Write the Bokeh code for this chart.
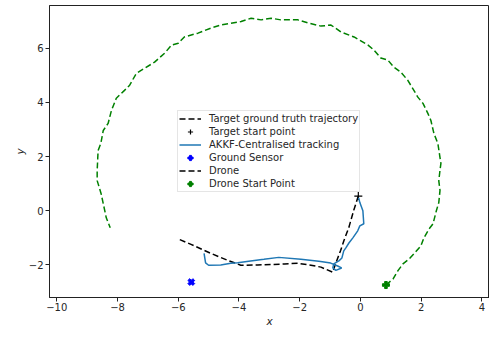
from bokeh.plotting import figure
from bokeh.models import Range1d, FixedTicker, Legend, LegendItem
from bokeh.embed import file_html
from bokeh.resources import INLINE
import numpy as np

# ---- data ----
target_x = [-0.07, -0.22, -0.38, -0.54, -0.65, -0.75, -0.87, -0.91, -1.30, -1.63, -2.06,
            -2.50, -2.85, -3.38, -3.94, -4.37, -4.93, -5.58, -6.00]
target_y = [0.54, 0.02, -0.61, -1.09, -1.46, -1.75, -2.12, -2.27, -2.08, -2.01, -1.94,
            -1.96, -1.98, -2.00, -2.01, -1.83, -1.57, -1.24, -1.04]

target_start_x = [-0.07]
target_start_y = [0.54]

track_x = [-0.06, -0.02, 0.08, 0.11, -0.02, -0.09, -0.25, -0.38, -0.48, -0.55, -0.61,
           -0.71, -0.88, -0.91, -0.81, -0.62, -0.75, -0.98, -1.20, -1.37, -1.96, -2.69,
           -3.18, -3.68, -4.04, -4.27, -4.60, -5.00, -5.10, -5.15]
track_y = [0.48, 0.30, 0.00, -0.48, -0.56, -0.74, -1.00, -1.19, -1.37, -1.48, -1.74,
           -1.85, -1.96, -2.11, -2.20, -2.11, -2.04, -1.93, -1.89, -1.86, -1.79, -1.72,
           -1.79, -1.86, -1.92, -1.94, -2.00, -2.01, -1.92, -1.57]

sensor_x = [-5.57]
sensor_y = [-2.63]

drone_x = [0.84, 1.07, 1.23, 1.40, 1.60, 1.76, 1.99, 2.09, 2.26, 2.39, 2.50, 2.58, 2.62,
           2.58, 2.62, 2.65, 2.62, 2.55, 2.42, 2.32, 2.22, 2.06, 1.89, 1.76, 1.56, 1.33,
           1.10, 0.90, 0.67, 0.44, 0.25, -0.21, -0.64, -0.97, -1.30, -1.73, -2.06, -2.62,
           -2.94, -3.27, -3.60, -3.93, -4.03, -4.59, -4.92, -5.35, -5.80, -6.00, -6.22,
           -6.45, -6.78, -7.10, -7.38, -7.60, -7.77, -8.04, -8.20, -8.31, -8.47, -8.55,
           -8.64, -8.67, -8.67, -8.54, -8.37, -8.24]
drone_y = [-2.74, -2.52, -2.22, -1.96, -1.78, -1.59, -1.30, -1.00, -0.67, -0.48, 0.00, 0.30,
           0.75, 1.10, 1.50, 1.75, 1.96, 2.48, 2.85, 3.33, 3.59, 3.96, 4.19, 4.44, 4.81, 5.11,
           5.30, 5.56, 5.63, 5.93, 6.11, 6.41, 6.59, 6.85, 6.81, 6.93, 7.04, 7.04,
           7.10, 7.04, 7.10, 6.98, 6.96, 6.85, 6.74, 6.55, 6.41, 6.18, 6.11,
           5.81, 5.48, 5.26, 5.07, 4.63, 4.44, 4.15, 3.70, 3.22, 2.96, 2.48,
           2.22, 1.48, 1.11, 0.63, -0.26, -0.63]

drone_start_x = [0.84]
drone_start_y = [-2.74]

x_ticks = [-10, -8, -6, -4, -2, 0, 2, 4]
y_ticks = [-2, 0, 2, 4, 6]

X_MIN, X_MAX = -10.24, 4.25
Y_MIN, Y_MAX = -3.2, 7.57

# ---- figure ----
p = figure(width=489, height=331, output_backend="svg", toolbar_location=None,
           x_range=Range1d(X_MIN, X_MAX), y_range=Range1d(Y_MIN, Y_MAX),
           min_border_left=49, min_border_right=0, min_border_top=5, min_border_bottom=34)
p.grid.visible = False
p.outline_line_color = "#222222"
p.outline_line_width = 1
p.background_fill_color = "white"
p.border_fill_color = "white"

def fmt(v):
    return str(v).replace("-", "\u2212")

for ax, ticks in ((p.xaxis[0], x_ticks), (p.yaxis[0], y_ticks)):
    ax.ticker = FixedTicker(ticks=ticks)
    ax.major_label_overrides = {t: fmt(t) for t in ticks}
    ax.minor_tick_line_color = None
    ax.major_tick_in = 0
    ax.major_tick_out = 4
    ax.axis_line_color = "#222222"
    ax.major_tick_line_color = "#222222"
    ax.major_label_text_font = "DejaVu Sans"
    ax.major_label_text_font_size = "10px"
    ax.major_label_text_color = "#262626"
    ax.major_label_standoff = 2
    ax.axis_label_text_font = "DejaVu Sans"
    ax.axis_label_text_font_style = "italic"
    ax.axis_label_text_font_size = "10.5px"
    ax.axis_label_text_color = "#262626"

p.xaxis.axis_label = "x"
p.yaxis.axis_label = "y"
p.xaxis.major_label_standoff = 1
p.xaxis.axis_label_standoff = 1
p.yaxis.axis_label_standoff = 0

r_target = p.line(target_x, target_y, line_color="black", line_dash="6 3", line_width=1.5)
r_tstart = p.scatter(target_start_x, target_start_y, marker="cross", size=8,
                     line_color="black", line_width=1.2)
r_track = p.line(track_x, track_y, line_color="#1f77b4", line_width=1.5)
r_sensor = p.scatter(sensor_x, sensor_y, marker="plus", size=7, angle=np.pi / 4,
                     fill_color="blue", line_color="blue")
r_drone = p.line(drone_x, drone_y, line_color="green", line_dash="6 3", line_width=1.5)
# legend-only proxy for "Drone" (drawn outside the visible ranges)
r_drone_leg = p.line(x=[X_MAX + 100, X_MAX + 101], y=[Y_MAX + 100, Y_MAX + 100],
                     line_color="black", line_dash="6 3", line_width=1.5)
r_dstart = p.scatter(drone_start_x, drone_start_y, marker="plus", size=7,
                     fill_color="green", line_color="green")

legend = Legend(items=[
    LegendItem(label="Target ground truth trajectory", renderers=[r_target]),
    LegendItem(label="Target start point", renderers=[r_tstart]),
    LegendItem(label="AKKF-Centralised tracking", renderers=[r_track]),
    LegendItem(label="Ground Sensor", renderers=[r_sensor]),
    LegendItem(label="Drone", renderers=[r_drone_leg]),
    LegendItem(label="Drone Start Point", renderers=[r_dstart]),
], location=(128, 105))
legend.label_text_font = "DejaVu Sans"
legend.label_text_font_size = "10px"
legend.label_text_color = "#262626"
legend.label_height = 13
legend.glyph_height = 13
legend.glyph_width = 22
legend.label_standoff = 8
legend.spacing = 0
legend.padding = 1
legend.margin = 0
legend.border_line_color = "#cccccc"
legend.background_fill_alpha = 0.85
p.add_layout(legend, "center")

open("out.html", "w").write(file_html(p, INLINE))
